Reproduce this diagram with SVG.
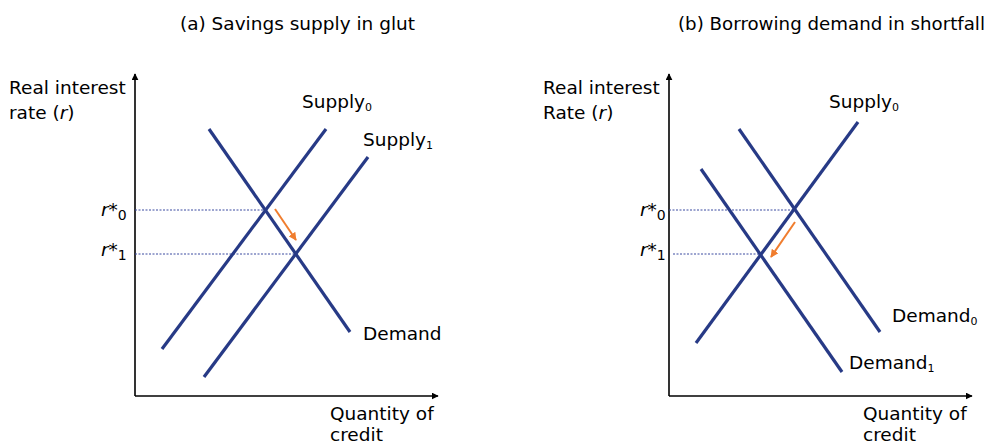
<svg xmlns="http://www.w3.org/2000/svg" width="995" height="445" viewBox="0 0 995 445">
<defs>
<style>
text{font-family:"DejaVu Sans","Liberation Sans",sans-serif;fill:#000}
.t{font-size:17.5px}
.l{font-size:18.5px}
.sub{font-size:11px}
.rs{font-size:14px}
.ax{stroke:#000;stroke-width:1.6;fill:none}
.c{stroke:#273a86;stroke-width:3.2;fill:none}
.d{stroke:#3b4aa0;stroke-width:1;stroke-dasharray:2 1.5;fill:none}
.o{stroke:#f07d2e;stroke-width:2;fill:none}
</style>
<marker id="ah" viewBox="0 0 10 10" refX="9" refY="5" markerWidth="7" markerHeight="7" orient="auto" markerUnits="userSpaceOnUse"><path d="M0,0 L10,5 L0,10 z" fill="#000"/></marker>
<marker id="oh" viewBox="0 0 10 10" refX="9" refY="5" markerWidth="8" markerHeight="8" orient="auto" markerUnits="userSpaceOnUse"><path d="M0,0 L10,5 L0,10 z" fill="#f07d2e"/></marker>
</defs>
<g id="titles">
<text class="t" x="180" y="30" textLength="235" lengthAdjust="spacingAndGlyphs">(a) Savings supply in glut</text>
<text class="t" x="678" y="30" textLength="307" lengthAdjust="spacingAndGlyphs">(b) Borrowing demand in shortfall</text>
</g>
<g id="panel-a">
<g id="axes-a">
<path class="ax" d="M135,396 V74" marker-end="url(#ah)"/>
<path class="ax" d="M135,396 H438" marker-end="url(#ah)"/>
<text class="l" x="9" y="94">Real interest</text>
<text class="l" x="9" y="119">rate (<tspan font-style="italic">r</tspan>)</text>
<text class="l" x="330" y="420">Quantity of</text>
<text class="l" x="330" y="441">credit</text>
<text class="l" x="101" y="216"><tspan font-style="italic">r</tspan>*<tspan class="rs" dy="4">0</tspan></text>
<text class="l" x="101" y="256"><tspan font-style="italic">r</tspan>*<tspan class="rs" dy="4">1</tspan></text>
</g>
<g id="connectors-a">
<path class="d" d="M135,210 H265"/>
<path class="d" d="M135,254 H295"/>
<path class="o" d="M275,209 L296,240" marker-end="url(#oh)"/>
</g>
<g id="demand-a"><path class="c" d="M209,129 L350,332"/><text class="l" x="363" y="340">Demand</text></g>
<g id="supply0-a"><path class="c" d="M162,349 L326,129"/><text class="l" x="302" y="108">Supply<tspan class="sub" dy="3">0</tspan></text></g>
<g id="supply1-a"><path class="c" d="M204,377 L368,157"/><text class="l" x="363" y="146">Supply<tspan class="sub" dy="3">1</tspan></text></g>
</g>
<g id="panel-b">
<g id="axes-b">
<path class="ax" d="M669,396 V74" marker-end="url(#ah)"/>
<path class="ax" d="M669,396 H972" marker-end="url(#ah)"/>
<text class="l" x="543" y="94">Real interest</text>
<text class="l" x="543" y="119">Rate (<tspan font-style="italic">r</tspan>)</text>
<text class="l" x="863" y="420">Quantity of</text>
<text class="l" x="863" y="441">credit</text>
<text class="l" x="640" y="216"><tspan font-style="italic">r</tspan>*<tspan class="rs" dy="4">0</tspan></text>
<text class="l" x="640" y="256"><tspan font-style="italic">r</tspan>*<tspan class="rs" dy="4">1</tspan></text>
</g>
<g id="connectors-b">
<path class="d" d="M669,210 H793"/>
<path class="d" d="M673,254 H760"/>
<path class="o" d="M795,222 L771,257" marker-end="url(#oh)"/>
</g>
<g id="supply0-b"><path class="c" d="M696,343 L858,122"/><text class="l" x="829" y="108">Supply<tspan class="sub" dy="3">0</tspan></text></g>
<g id="demand0-b"><path class="c" d="M739,129 L880,332"/><text class="l" x="892" y="322">Demand<tspan class="sub" dy="3">0</tspan></text></g>
<g id="demand1-b"><path class="c" d="M701,169 L842,372"/><text class="l" x="849" y="369">Demand<tspan class="sub" dy="3">1</tspan></text></g>
</g>
</svg>
